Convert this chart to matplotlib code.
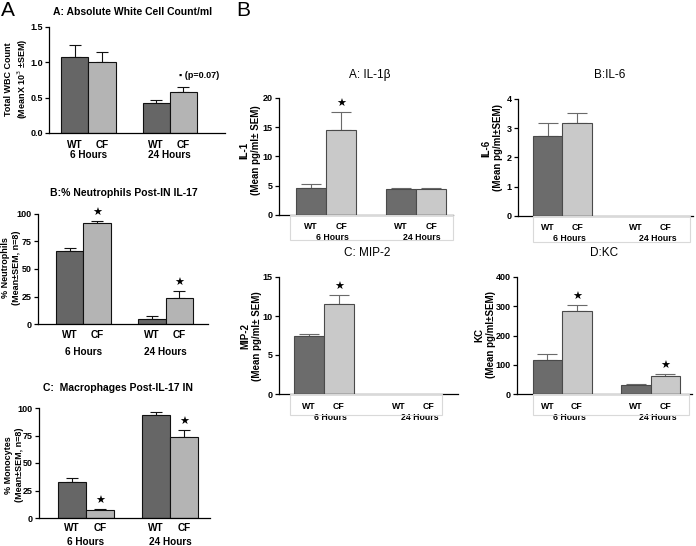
import matplotlib
matplotlib.use("Agg")
import matplotlib.pyplot as plt
from matplotlib.patches import Rectangle
import numpy as np

plt.rcParams["font.family"] = ["Liberation Sans", "DejaVu Sans"]

W, H = 696, 546

# ---- data ----
bar_labels = ["WT", "CF", "WT", "CF"]
hour_labels = ["6 Hours", "24 Hours"]

wbc_mean = [1.08, 1.01, 0.42, 0.58]
wbc_sem = [0.17, 0.14, 0.05, 0.07]

neut_mean = [66, 92, 5, 24]
neut_sem = [3, 1.5, 2, 6]
neut_star = [False, True, False, True]

mono_mean = [33, 7, 94, 74]
mono_sem = [3.5, 1.5, 2, 6]
mono_star = [False, True, False, True]

il1_mean = [4.6, 14.6, 4.5, 4.5]
il1_sem = [0.7, 3.0, 0.1, 0.1]
il1_star = [False, True, False, False]

il6_mean = [2.75, 3.17]
il6_sem = [0.42, 0.35]
il6_star = [False, False]

mip2_mean = [7.4, 11.5]
mip2_sem = [0.35, 1.2]
mip2_star = [False, True]

kc_mean = [117, 285, 32, 62]
kc_sem = [20, 20, 2, 6]
kc_star = [False, True, False, True]

LEFT = dict(dark="#666666", light="#b4b4b4", edge="#111111", ecolor="#111111",
            capsize=4.5, lab_fs=7.2)
RIGHT = dict(dark="#6c6c6c", light="#c9c9c9", edge="#4a4a4a", ecolor="#6a6a6a",
             capsize=7, lab_fs=6.3)

fig = plt.figure(figsize=(W / 100, H / 100), dpi=100)


def draw_panel(rect, xlim, ylim, yticks, yticklabels, mean, sem, stars, style,
               wt_y, hr_y, hr_dx=0.0, label_box=None):
    l, t, r, b = rect
    ax = fig.add_axes([l / W, 1 - b / H, (r - l) / W, (b - t) / H])
    x = np.array([1, 2, 4, 5])[:len(mean)]
    colors = [style["dark"], style["light"]] * 2
    ax.errorbar(x, mean, yerr=[np.zeros(len(mean)), sem], fmt="none",
                ecolor=style["ecolor"], elinewidth=0.8, capsize=style["capsize"],
                capthick=0.8, zorder=1)
    ax.bar(x, mean, width=1.0, color=colors[:len(mean)],
           edgecolor=style["edge"], linewidth=0.8, zorder=2)
    for xi, m, s, st in zip(x, mean, sem, stars):
        if st:
            ax.annotate("★", (xi, m + s), xytext=(0, 2), textcoords="offset points",
                        ha="center", va="bottom", fontsize=8, family="DejaVu Sans")
    ax.set_xlim(xlim)
    ax.set_ylim(ylim)
    ax.set_yticks(yticks)
    ax.set_yticklabels(yticklabels, fontsize=6.5, fontweight="bold")
    ax.set_xticks([])
    for sp in ["top", "right"]:
        ax.spines[sp].set_visible(False)
    for sp in ["left", "bottom"]:
        ax.spines[sp].set_linewidth(0.9)
    ax.tick_params(axis="y", length=3, width=0.9, pad=1.5)
    tr = ax.get_xaxis_transform()
    fs = style["lab_fs"]
    for xi, lab in zip([1, 2, 4, 5], bar_labels):
        ax.text(xi, wt_y, lab, transform=tr, ha="center", va="center",
                fontsize=fs, fontweight="bold")
    for xi, lab in zip([1.5, 4.5], hour_labels):
        ax.text(xi + hr_dx, hr_y, lab, transform=tr, ha="center", va="center",
                fontsize=fs, fontweight="bold")
    if label_box is not None:
        bl, bt, br, bb = label_box
        fig.add_artist(Rectangle((bl / W, 1 - bb / H), (br - bl) / W, (bb - bt) / H,
                                 transform=fig.transFigure, fill=False,
                                 edgecolor="#d9d9d9", linewidth=0.8))
    return ax


def ftext(x, y, s, **kw):
    fig.text(x / W, 1 - y / H, s, **kw)


# ---- left column (A) ----
ftext(1, 10, "A", fontsize=15, ha="left", va="center")
ftext(133, 12, "A: Absolute White Cell Count/ml", fontsize=7.5, fontweight="bold",
      ha="center", va="center")
axA = draw_panel((49, 27, 225, 133), (0.04, 6.55), (0, 1.5), [0, 0.5, 1.0, 1.5],
                 ["0.0", "0.5", "1.0", "1.5"], wbc_mean, wbc_sem, [False] * 4, LEFT,
                 wt_y=-0.113, hr_y=-0.21)
axA.text(4.85, 0.82, "▪ (p=0.07)", fontsize=6.5, fontweight="bold", ha="left", va="center")
ftext(17, 79, "Total WBC Count\n(MeanX 10$^3$ ±SEM)", rotation=90, fontsize=6.5,
      fontweight="bold", ha="center", va="center", multialignment="center")

ftext(124, 193, "B:% Neutrophils Post-IN IL-17", fontsize=7.5, fontweight="bold",
      ha="center", va="center")
draw_panel((38, 214, 208, 324), (-0.15, 6.04), (0, 100), [0, 25, 50, 75, 100],
           ["0", "25", "50", "75", "100"], neut_mean, neut_sem, neut_star, LEFT,
           wt_y=-0.10, hr_y=-0.255)
ftext(11, 268, "% Neutrophils\n(Mean±SEM, n=8)", rotation=90, fontsize=6.5,
      fontweight="bold", ha="center", va="center", multialignment="center")

ftext(118, 388, "C:  Macrophages Post-IL-17 IN", fontsize=7.5, fontweight="bold",
      ha="center", va="center")
draw_panel((39, 408, 210, 518), (-0.18, 5.93), (0, 100), [0, 25, 50, 75, 100],
           ["0", "25", "50", "75", "100"], mono_mean, mono_sem, mono_star, LEFT,
           wt_y=-0.09, hr_y=-0.22)
ftext(14, 465, "% Monocytes\n(Mean±SEM, n=8)", rotation=90, fontsize=6.5,
      fontweight="bold", ha="center", va="center", multialignment="center")

# ---- right block (B) ----
ftext(236, 10, "B", fontsize=15, ha="left", va="center")

ftext(370, 75, "A: IL-1β", fontsize=8.5, ha="center", va="center")
draw_panel((279, 98, 453, 215), (-0.07, 5.73), (0, 20), [0, 5, 10, 15, 20],
           ["0", "5", "10", "15", "20"], il1_mean, il1_sem, il1_star, RIGHT,
           wt_y=-0.10, hr_y=-0.19, hr_dx=0.2, label_box=(290, 215, 453, 240))
ftext(250, 150, "IL-1\n(Mean pg/ml± SEM)", rotation=90, fontsize=7,
      fontweight="bold", ha="center", va="center", multialignment="center")

ftext(610, 75, "B:IL-6", fontsize=8.5, ha="center", va="center")
draw_panel((518, 99, 693, 216), (0, 5.93), (0, 4), [0, 1, 2, 3, 4],
           ["0", "1", "2", "3", "4"], il6_mean, il6_sem, il6_star, RIGHT,
           wt_y=-0.10, hr_y=-0.19, hr_dx=0.25, label_box=(533, 216, 690, 242))
ftext(492, 148, "IL-6\n(Mean pg/ml±SEM)", rotation=90, fontsize=7,
      fontweight="bold", ha="center", va="center", multialignment="center")

ftext(367, 253, "C: MIP-2", fontsize=8.5, ha="center", va="center")
draw_panel((279, 277, 458, 394), (0, 5.97), (0, 15), [0, 5, 10, 15],
           ["0", "5", "10", "15"], mip2_mean, mip2_sem, mip2_star, RIGHT,
           wt_y=-0.105, hr_y=-0.205, hr_dx=0.2, label_box=(290, 394, 442, 415))
ftext(251, 336, "MIP-2\n(Mean pg/ml± SEM)", rotation=90, fontsize=7,
      fontweight="bold", ha="center", va="center", multialignment="center")

ftext(604, 253, "D:KC", fontsize=8.5, ha="center", va="center")
draw_panel((517, 277, 692, 394), (-0.03, 5.9), (0, 400), [0, 100, 200, 300, 400],
           ["0", "100", "200", "300", "400"], kc_mean, kc_sem, kc_star, RIGHT,
           wt_y=-0.105, hr_y=-0.2, hr_dx=0.25, label_box=(533, 394, 689, 415))
ftext(485, 335, "KC\n(Mean pg/ml±SEM)", rotation=90, fontsize=7,
      fontweight="bold", ha="center", va="center", multialignment="center")

fig.savefig("out.png", dpi=100)
